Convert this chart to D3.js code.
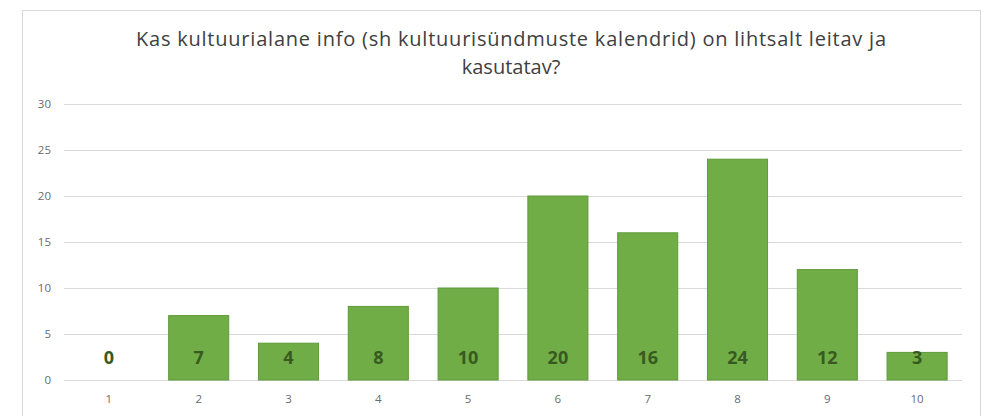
<!DOCTYPE html>
<html>
<head>
<meta charset="utf-8">
<script src="https://cdn.jsdelivr.net/npm/d3@7"></script>
<style>
  body { margin: 0; background: #fff; }
  svg { display: block; }
</style>
</head>
<body>
<svg width="993" height="416"></svg>
<script>
const width = 993;
const height = 416;
const categories = ["1", "2", "3", "4", "5", "6", "7", "8", "9", "10"];
const values = [0, 7, 4, 8, 10, 20, 16, 24, 12, 3];
const yTicks = [0, 5, 10, 15, 20, 25, 30];
const titleLines = [
    "Kas kultuurialane info (sh kultuurisündmuste kalendrid) on lihtsalt leitav ja",
    "kasutatav?",
];

const margin = { top: 104, right: 31, bottom: 36, left: 64 };
const svg = d3.select("svg");

// chart frame
svg.append("rect")
    .attr("x", 22.5)
    .attr("y", 10.5)
    .attr("width", 958)
    .attr("height", 420)
    .attr("fill", "#fff")
    .attr("stroke", "#d9d9d9");

const x = d3
    .scaleBand()
    .domain(categories)
    .range([margin.left, width - margin.right])
    .paddingInner(0.32)
    .paddingOuter(0.16);

const y = d3
    .scaleLinear()
    .domain([0, 30])
    .range([380, margin.top]);

// grid lines
svg.append("g")
    .selectAll("line")
    .data(yTicks)
    .join("line")
    .attr("x1", margin.left)
    .attr("x2", width - margin.right)
    .attr("y1", (d) => Math.round(y(d)) + 0.5)
    .attr("y2", (d) => Math.round(y(d)) + 0.5)
    .attr("stroke", "#d9d9d9");

// y axis labels
const yAxis = d3.axisLeft(y).tickValues(yTicks).tickSize(0).tickPadding(0);
svg.append("g")
    .attr("transform", `translate(${margin.left - 13},0)`)
    .call(yAxis)
    .call((g) => g.select(".domain").remove())
    .call((g) =>
        g.selectAll("text")
            .attr("fill", "#6b6b6b")
            .style("font", "11.5px 'Open Sans', sans-serif")
    );

// x axis labels
const xAxis = d3.axisBottom(x).tickSize(0).tickPadding(0);
svg.append("g")
    .attr("transform", `translate(0,${y(0) + 15})`)
    .call(xAxis)
    .call((g) => g.select(".domain").remove())
    .call((g) =>
        g.selectAll("text")
            .attr("fill", "#6b6b6b")
            .style("font", "11.5px 'Open Sans', sans-serif")
    );

// bars
svg.append("g")
    .selectAll("rect")
    .data(values)
    .join("rect")
    .attr("x", (d, i) => x(categories[i]) + 0.5)
    .attr("y", (d) => y(d))
    .attr("width", x.bandwidth() - 1)
    .attr("height", (d) => y(0) - y(d))
    .attr("fill", "#70ad47")
    .attr("stroke", (d) => (d > 0 ? "#5f9a3a" : "none"))
    .attr("stroke-width", 1);

// value labels
svg.append("g")
    .selectAll("text")
    .data(values)
    .join("text")
    .attr("x", (d, i) => x(categories[i]) + x.bandwidth() / 2)
    .attr("y", y(0) - 16)
    .attr("text-anchor", "middle")
    .attr("fill", "#385a20")
    .style("font", "bold 18px 'Open Sans', sans-serif")
    .text((d) => d);

// title
svg.append("g")
    .selectAll("text")
    .data(titleLines)
    .join("text")
    .attr("x", 511)
    .attr("y", (d, i) => 46 + i * 28)
    .attr("text-anchor", "middle")
    .attr("fill", "#404040")
    .attr("textLength", (d, i) => (i === 0 ? 750 : null))
    .attr("lengthAdjust", "spacing")
    .style("font", "20px 'Open Sans', sans-serif")
    .text((d) => d);
</script>
</body>
</html>
